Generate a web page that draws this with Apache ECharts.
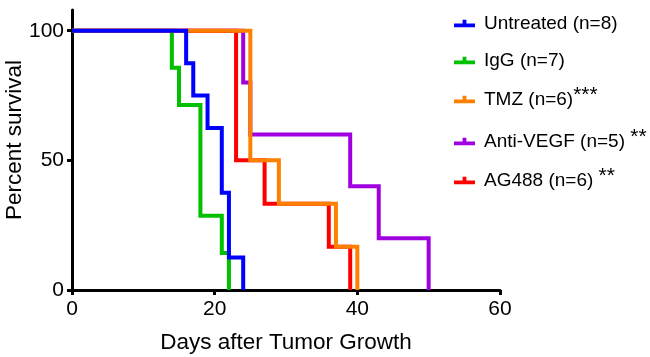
<!DOCTYPE html>
<html>
<head>
<meta charset="utf-8">
<script src="https://cdn.jsdelivr.net/npm/echarts@6/dist/echarts.min.js"></script>
<style>html,body{margin:0;padding:0;background:#fff;}#c{width:650px;height:357px;}</style>
</head>
<body>
<div id="c"></div>
<script>
var seriesNames = ['Untreated (n=8)', 'IgG (n=7)', 'TMZ (n=6)', 'Anti-VEGF (n=5) ', 'AG488 (n=6) '];
var seriesStars = ['', '', '***', '**', '**'];
var seriesColors = ['#0000ff', '#00c000', '#ff8000', '#a000e0', '#ff0000'];
var xAxisTitle = 'Days after Tumor Growth';
var yAxisTitle = 'Percent survival';

var untreatedDays = [0, 16, 17, 19, 21, 22, 24];
var untreatedSurv = [100, 87.5, 75, 62.5, 37.5, 12.5, 0];
var iggDays = [0, 14, 15, 18, 21, 22];
var iggSurv = [100, 85.7, 71.4, 28.6, 14.3, 0];
var tmzDays = [0, 25, 29, 37, 40];
var tmzSurv = [100, 50, 33.3, 16.7, 0];
var vegfDays = [0, 24, 25, 39, 43, 50];
var vegfSurv = [100, 80, 60, 40, 20, 0];
var ag488Days = [0, 23, 27, 36, 39];
var ag488Surv = [100, 50, 33.3, 16.7, 0];

var xTicks = [0, 20, 40, 60];
var yTicks = [0, 50, 100];

function zip(a, b) { return a.map(function (v, i) { return [v, b[i]]; }); }
var allDays = [untreatedDays, iggDays, tmzDays, vegfDays, ag488Days];
var allSurv = [untreatedSurv, iggSurv, tmzSurv, vegfSurv, ag488Surv];
var zOrder = [10, 6, 8, 5, 7];
var legendTops = [9, 46, 80, 122, 161];

var FONT = 'Liberation Sans, Arial, sans-serif';
var icon = 'path://M0,7 L22,7 L22,11 L0,11 Z M9,3 L13,3 L13,7 L9,7 Z';

var series = seriesNames.map(function (n, i) {
  return {
    name: n + seriesStars[i],
    type: 'line',
    step: 'end',
    data: zip(allDays[i], allSurv[i]),
    showSymbol: false,
    symbol: 'none',
    z: zOrder[i],
    lineStyle: { color: seriesColors[i], width: 4, cap: 'butt', join: 'miter' },
    itemStyle: { color: seriesColors[i] },
    animation: false
  };
});

var legends = series.map(function (s, i) {
  return {
    data: [s.name],
    left: 449,
    top: legendTops[i],
    icon: icon,
    itemWidth: 21,
    itemHeight: 9,
    itemGap: 0,
    selectedMode: false,
    textStyle: {
      fontFamily: FONT, fontSize: 19, color: '#000', padding: [0, 0, 0, 4],
      rich: { s: { fontFamily: FONT, fontSize: 21, color: '#000', padding: [0, 0, 8, 0] } }
    },
    formatter: function (name) {
      var idx = name.indexOf('*');
      if (idx >= 0) return name.slice(0, idx) + '{s|' + name.slice(idx) + '}';
      return name;
    }
  };
});

var chart = echarts.init(document.getElementById('c'), null, { renderer: 'canvas' });
chart.setOption({
  animation: false,
  backgroundColor: '#fff',
  grid: { left: 72, right: 150, top: 10, bottom: 67, containLabel: false, outerBoundsMode: 'none' },
  legend: legends,
  graphic: [{
    type: 'text', x: 15, y: 140, rotation: Math.PI / 2,
    style: { text: yAxisTitle, font: '22.5px ' + FONT, fill: '#000', align: 'center', verticalAlign: 'middle' }
  }],
  xAxis: {
    type: 'value', min: 0, max: 60, interval: 20,
    name: xAxisTitle, nameLocation: 'middle', nameGap: 41,
    nameTextStyle: { fontFamily: FONT, fontSize: 22.5, color: '#000' },
    axisLine: { show: true, onZero: false, lineStyle: { color: '#000', width: 3 } },
    axisTick: { show: true, length: 5, lineStyle: { color: '#000', width: 3 } },
    axisLabel: { fontFamily: FONT, fontSize: 21, color: '#000', margin: 9 },
    splitLine: { show: false }
  },
  yAxis: {
    type: 'value', min: 0, max: 108,
    axisLine: { show: true, onZero: false, lineStyle: { color: '#000', width: 3 } },
    axisTick: { show: true, length: 5, customValues: yTicks, lineStyle: { color: '#000', width: 3 } },
    axisLabel: { fontFamily: FONT, fontSize: 21, color: '#000', margin: 8, customValues: yTicks },
    splitLine: { show: false }
  },
  series: series
});
</script>
</body>
</html>
